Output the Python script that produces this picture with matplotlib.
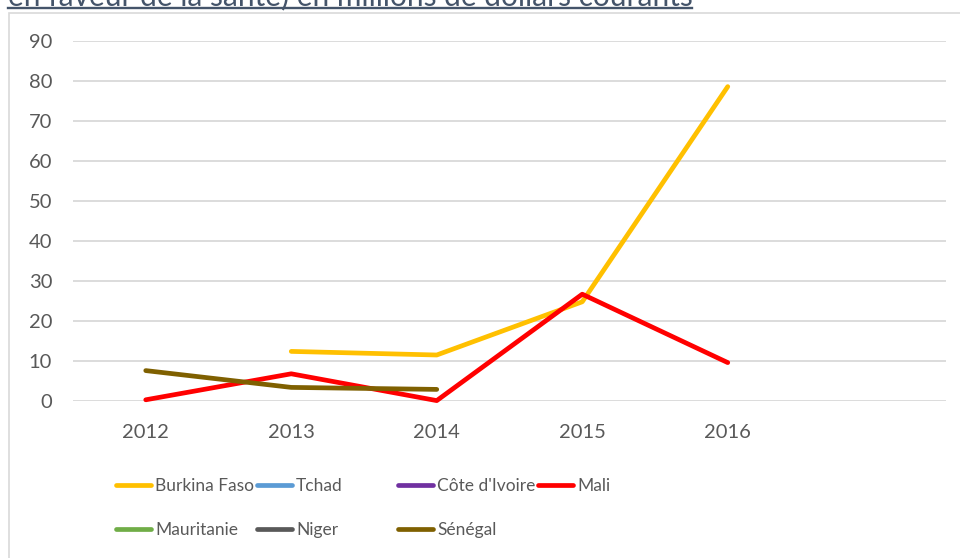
import matplotlib.pyplot as plt
from matplotlib.lines import Line2D
from matplotlib.patches import Rectangle
import numpy as np

# Years on the category axis (the last slot is left empty)
years = ["2012", "2013", "2014", "2015", "2016", ""]

countries = ["Burkina Faso", "Tchad", "Côte d'Ivoire", "Mali", "Mauritanie", "Niger", "Sénégal"]
colors = ["#FFC000", "#5B9BD5", "#7030A0", "#FF0000", "#70AD47", "#595959", "#7F6000"]

# Values in millions of current dollars (None = no data)
burkina_faso = [None, 12.4, 11.5, 24.8, 78.6, None]
tchad = [None] * 6
cote_divoire = [None] * 6
mali = [0.3, 6.8, 0.1, 26.7, 9.6, None]
mauritanie = [None] * 6
niger = [None] * 6
senegal = [7.6, 3.4, 2.9, None, None, None]

series = [burkina_faso, tchad, cote_divoire, mali, mauritanie, niger, senegal]

plt.rcParams['font.family'] = ['Lato', 'DejaVu Sans']

fig = plt.figure(figsize=(9.6, 5.58), dpi=100)
ax = fig.add_axes([73 / 960, 1 - 401 / 558, (946 - 73) / 960, 360 / 558])

x = np.arange(len(years))
for vals, col in zip(series, colors):
    y = np.array([np.nan if v is None else v for v in vals], dtype=float)
    ax.plot(x, y, color=col, lw=3.4, solid_capstyle='round', solid_joinstyle='round',
            clip_on=False, zorder=3)

ax.set_xlim(-0.5, len(years) - 0.5)
ax.set_ylim(0, 90)
ax.set_yticks(range(0, 91, 10))
ax.set_xticks(x[:5])
ax.set_xticklabels(years[:5])
ax.grid(axis='y', color='#D9D9D9', lw=1.3)
ax.set_axisbelow(True)
for s in ax.spines.values():
    s.set_visible(False)
ax.tick_params(length=0, labelsize=14.5, colors='#595959')
ax.tick_params(axis='y', pad=15)
ax.tick_params(axis='x', pad=16.5)

# legend, one block per column
handles = [Line2D([0], [0], color=c, lw=3.4, solid_capstyle='round') for c in colors]
cols = [[0, 4], [1, 5], [2, 6], [3]]
col_x = [116, 257, 398, 538]
for idx, cx in zip(cols, col_x):
    fig.legend([handles[i] for i in idx], [countries[i] for i in idx],
               loc='upper left', bbox_to_anchor=(cx / 960, 1 - 478 / 558),
               frameon=False, borderpad=0, borderaxespad=0, handlelength=2.0,
               handletextpad=0.25, labelspacing=1.6, fontsize=12.5,
               labelcolor='#595959')

# chart frame
fig.patches.append(Rectangle((9 / 960, -0.05), 1.0, 1 - 13 / 558 + 0.05,
                             transform=fig.transFigure, fill=False,
                             edgecolor='#D9D9D9', lw=1.2))

# title line, partly cut off at the top
fig.text(8 / 960, 1 - 5 / 558, "en faveur de la santé) en millions de dollars courants",
         fontsize=21.5, color='#44546A', ha='left', va='baseline')
fig.add_artist(Line2D([8 / 960, 692 / 960], [1 - 8 / 558, 1 - 8 / 558],
                      color='#44546A', lw=1.7, transform=fig.transFigure))

fig.savefig("out.png", dpi=100)
